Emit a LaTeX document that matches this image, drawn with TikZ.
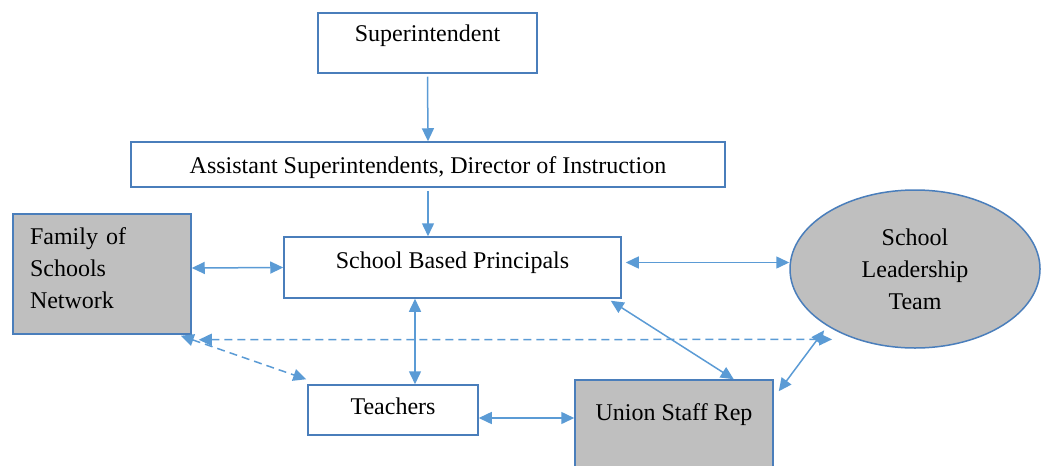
\documentclass[tikz,border=0pt]{standalone}
\usepackage{fontspec}
\setmainfont{Liberation Serif}
\usetikzlibrary{arrows.meta,shapes.geometric}
\definecolor{boxline}{RGB}{74,126,187}
\definecolor{arrowblue}{RGB}{91,155,213}
\definecolor{boxgray}{RGB}{191,191,191}

\begin{document}
\begin{tikzpicture}[x=0.5pt,y=-0.5pt]
\tikzstyle{every node}+=[font=\fontsize{12}{16}\selectfont]
\tikzstyle{box}=[draw=boxline,line width=0.75pt,rectangle,inner xsep=0pt,inner ysep=0pt]
\tikzstyle{grey}=[fill=boxgray]
\tikzstyle{oneway}=[arrowblue,line width=0.75pt,-{Triangle[length=6.5pt,width=6pt]}]
\tikzstyle{twoway}=[arrowblue,line width=0.75pt,{Triangle[length=6.5pt,width=6pt]}-{Triangle[length=6.5pt,width=6pt]}]
\tikzstyle{loose}=[twoway,dash pattern=on 4pt off 2.5pt]
\useasboundingbox (0,0) rectangle (1042,465);
\node [box,minimum width=109.5pt,text height=14.5pt,text depth=15.5pt] (super) at (427.5,43) {Superintendent};
\node [box,minimum width=297pt,text height=15.5pt,text depth=7pt] (assist) at (428,164.5) {Assistant Superintendents, Director of Instruction};
\node [box,minimum width=168.5pt,text height=15.5pt,text depth=15pt] (princ) at (452.5,267.5) {School Based Principals};
\node [box,grey,inner xsep=8.5pt,text width=72pt,align=left,text height=15pt,text depth=45pt] (family) at (102,274) {Family of\\Schools\\Network};
\node [draw=boxline,line width=0.75pt,grey,ellipse,inner sep=0pt,minimum width=125pt,minimum height=79pt,align=center] (slt) at (915,269) {School\\Leadership\\Team};
\node [box,minimum width=85pt,text height=14.5pt,text depth=10.5pt] (teach) at (393,410) {Teachers};
\node [box,grey,minimum width=99pt,text height=20pt,text depth=30pt] (union) at (674,430) {Union Staff Rep};
% top-down lines
\draw [oneway] ([yshift=-1.5pt]super.south) -- (assist.north);
\draw [oneway] ([yshift=-1.5pt]assist.south) -- (assist.south |- princ.north);
% two way links
\draw [twoway] ([yshift=3pt]family.east) -- (princ.west);
\draw [twoway] ([shift={(2pt,2.5pt)}]princ.east) -- ([yshift=2.5pt]slt.west |- princ.east);
\draw [twoway] ([xshift=11pt]teach.north |- princ.south) -- ([xshift=11pt]teach.north);
\draw [twoway] ([shift={(-5.5pt,-1pt)}]princ.south east) -- ([xshift=-20pt]union.north east);
\draw [twoway] ([yshift=-4pt]teach.east) -- ([yshift=-4pt]teach.east -| union.west);
\draw [twoway] ([shift={(2.5pt,-6pt)}]union.north east) -- ([shift={(-1pt,-2.5pt)}]slt.south west);
% dashed links
\draw [loose] ([shift={(3.5pt,-2.5pt)}]family.south east) -- ([shift={(3pt,-7pt)}]slt.south west);
\draw [loose] ([shift={(-5.5pt,-0.5pt)}]family.south east) -- ([shift={(-0.5pt,2.5pt)}]teach.north west);
\end{tikzpicture}
\end{document}
